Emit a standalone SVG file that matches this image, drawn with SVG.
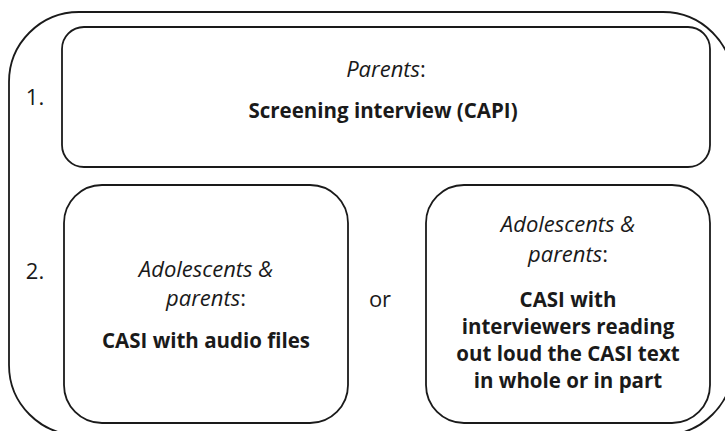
<svg xmlns="http://www.w3.org/2000/svg" width="725" height="431" viewBox="0 0 725 431">
<style>
.box{fill:#fff;stroke:#1a1a1a;stroke-width:1.8}
text{font-family:"Open Sans","Liberation Sans",sans-serif;fill:#1a1a1a;text-anchor:middle}
.it{font-style:italic;font-size:22px}
.b{font-weight:bold;font-size:20.5px}
.n{font-size:22px}
</style>
<rect width="725" height="431" fill="#fff"/>
<g id="outer">
<rect class="box" x="9" y="12" width="724" height="423" rx="70" ry="70"/>
</g>
<g id="label1"><text class="n" x="35" y="105">1.</text></g>
<g id="label2"><text class="n" x="35" y="279">2.</text></g>
<g id="step1">
<rect class="box" x="62" y="27" width="648" height="140" rx="22" ry="22"/>
<text class="it" x="386" y="77">Parents<tspan font-style="normal">:</tspan></text>
<text class="b" x="383" y="118">Screening interview (CAPI)</text>
</g>
<g id="step2a">
<rect class="box" x="64" y="185" width="284" height="238" rx="38" ry="38"/>
<text class="it" x="206" y="277">Adolescents &amp;</text>
<text class="it" x="206" y="306">parents<tspan font-style="normal">:</tspan></text>
<text class="b" x="206" y="348">CASI with audio files</text>
</g>
<g id="or"><text class="n" x="380" y="307">or</text></g>
<g id="step2b">
<rect class="box" x="426" y="185" width="284" height="238" rx="38" ry="38"/>
<text class="it" x="568" y="232">Adolescents &amp;</text>
<text class="it" x="568" y="262">parents<tspan font-style="normal">:</tspan></text>
<text class="b" x="568" y="307">CASI with</text>
<text class="b" x="568" y="334">interviewers reading</text>
<text class="b" x="568" y="361">out loud the CASI text</text>
<text class="b" x="568" y="388">in whole or in part</text>
</g>
</svg>
